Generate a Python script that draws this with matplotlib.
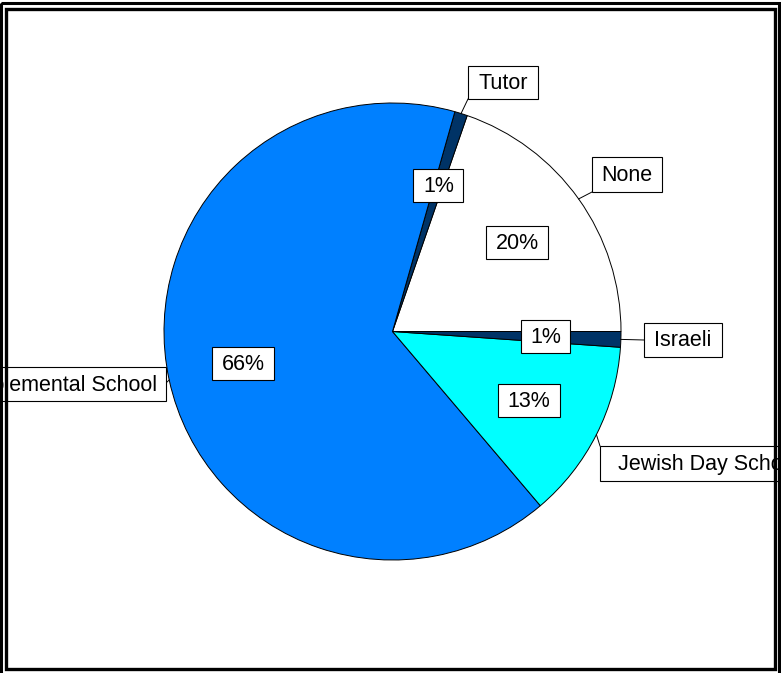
import matplotlib
matplotlib.use('Agg')
import matplotlib.pyplot as plt
from matplotlib.patches import Rectangle
import numpy as np

# ---- data ----
categories = ['None', 'Tutor', 'Supplemental School', 'Jewish Day School', 'Israeli']
shares = [19.7, 0.9, 65.6, 12.7, 1.1]
colors = ['#FFFFFF', '#003366', '#0080FF', '#00FFFF', '#003366']

# ---- layout (pixels, y downwards) ----
W, H = 781, 673
CX, CY, R = 392.5, 331.5, 228.5
FONT = 'Liberation Sans'
FS = 15.5

# label boxes: x0, y0, x1, y1 ; text anchor x, alignment ; leader end point
label_boxes = {
    'Tutor': ((468, 66, 538, 99), None, 'center', (468, 99)),
    'None': ((592, 157, 662, 192), None, 'center', (592, 192)),
    'Israeli': ((644, 323, 722, 357), None, 'center', (644, 340)),
    'Jewish Day School': ((600, 446, 900, 481), 618, 'left', (600, 446)),
    'Supplemental School': ((-100, 367, 166, 401), 157, 'right', (166, 383)),
}

fig = plt.figure(figsize=(W / 100, H / 100), dpi=100)
ax = fig.add_axes([0, 0, 1, 1])

wedges, texts, autotexts = ax.pie(
    shares, colors=colors, center=(CX, CY), radius=R,
    counterclock=False, startangle=0,
    autopct=lambda p: f'{p:.0f}%', pctdistance=0.67,
    wedgeprops=dict(edgecolor='black', linewidth=0.7),
    textprops=dict(fontsize=FS, family=FONT, color='black'))

ax.set_xlim(0, W)
ax.set_ylim(H, 0)
ax.set_aspect('auto')
ax.axis('off')

# percent label boxes
fig.canvas.draw()
renderer = fig.canvas.get_renderer()
for t in autotexts:
    t.set_zorder(6)
    bb = t.get_window_extent(renderer)
    x, y = t.get_position()
    w = bb.width + 19
    h = 33
    ax.add_patch(Rectangle((x - w / 2, y - h / 2), w, h, facecolor='white',
                           edgecolor='black', linewidth=0.8, zorder=5))
    t.set_position((x, y + 1))

# category labels with leader lines
for wedge, cat in zip(wedges, categories):
    (x0, y0, x1, y1), tx, ha, end = label_boxes[cat]
    mid = np.deg2rad((wedge.theta1 + wedge.theta2) / 2)
    sx = CX + R * np.cos(mid)
    sy = CY + R * np.sin(mid)
    ax.plot([sx, end[0]], [sy, end[1]], color='black', lw=0.7, zorder=4)
    ax.add_patch(Rectangle((x0, y0), x1 - x0, y1 - y0, facecolor='white',
                           edgecolor='black', linewidth=0.8, zorder=5))
    if tx is None:
        tx = (x0 + x1) / 2
    ax.text(tx, (y0 + y1) / 2 + 1, cat, ha=ha, va='center', fontsize=FS,
            family=FONT, color='black', zorder=6)

# double frame
ax.add_patch(Rectangle((1.3, 3), 779.3 - 1.3, 676 - 3, fill=False,
                       edgecolor='black', linewidth=2.2, zorder=10,
                       clip_on=False, joinstyle='miter'))
ax.add_patch(Rectangle((6.2, 8.5), 774.7 - 6.2, 668.8 - 8.5, fill=False,
                       edgecolor='black', linewidth=2.4, zorder=10,
                       clip_on=False, joinstyle='miter'))

fig.savefig('out.png', dpi=100)
